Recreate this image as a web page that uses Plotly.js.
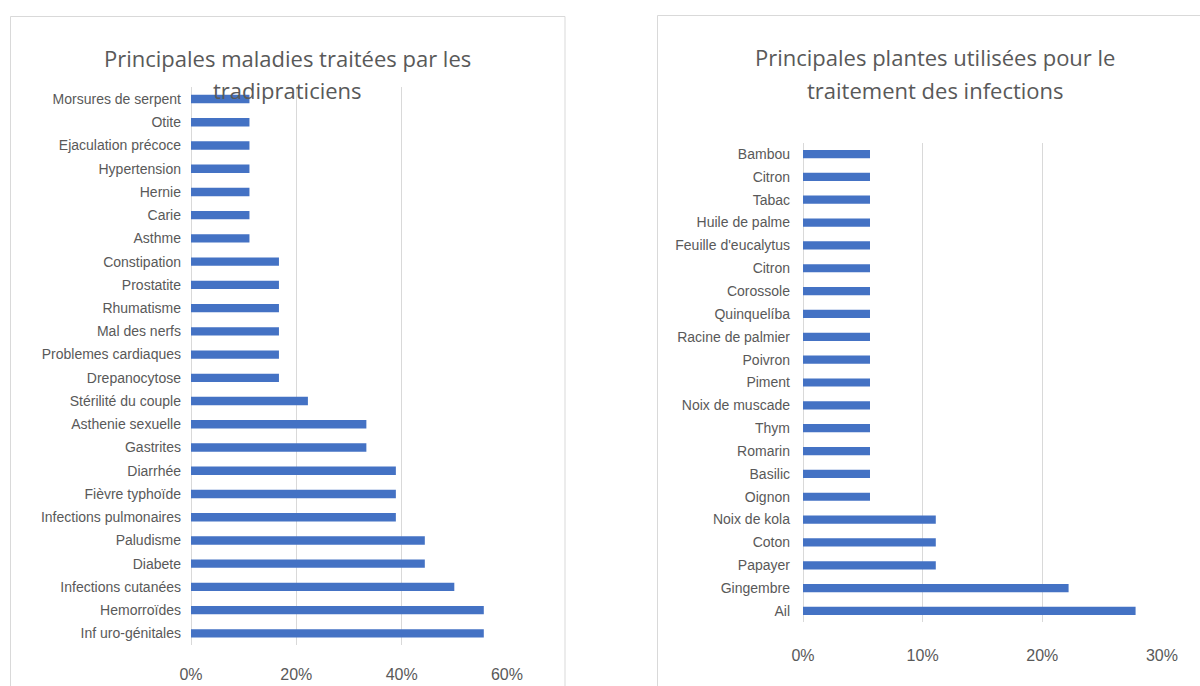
<!DOCTYPE html>
<html>
<head>
<meta charset="utf-8">
<script src="https://cdn.plot.ly/plotly-3.0.1.min.js"></script>
<style>html,body{margin:0;padding:0;background:#fff;}#chart{width:1200px;height:686px;}</style>
</head>
<body>
<div id="chart"></div>
<script>
// Left chart: diseases (top to bottom as displayed)
const maladies = [
  "Morsures de serpent", "Otite", "Ejaculation précoce", "Hypertension", "Hernie", "Carie", "Asthme",
  "Constipation", "Prostatite", "Rhumatisme", "Mal des nerfs", "Problemes cardiaques", "Drepanocytose",
  "Stérilité du couple", "Asthenie sexuelle", "Gastrites", "Diarrhée", "Fièvre typhoïde",
  "Infections pulmonaires", "Paludisme", "Diabete", "Infections cutanées", "Hemorroïdes", "Inf uro-génitales"
];
const maladiesPct = [
  0.111, 0.111, 0.111, 0.111, 0.111, 0.111, 0.111,
  0.167, 0.167, 0.167, 0.167, 0.167, 0.167,
  0.222, 0.333, 0.333, 0.389, 0.389,
  0.389, 0.444, 0.444, 0.5, 0.556, 0.556
];
const maladiesTitle1 = "Principales maladies traitées par les";
const maladiesTitle2 = "tradipraticiens";
const maladiesTicks = [0, 0.2, 0.4, 0.6];

// Right chart: plants (top to bottom as displayed)
const plantes = [
  "Bambou", "Citron", "Tabac", "Huile de palme", "Feuille d'eucalytus", "Citron", "Corossole",
  "Quinquelíba", "Racine de palmier", "Poivron", "Piment", "Noix de muscade", "Thym", "Romarin",
  "Basilic", "Oignon", "Noix de kola", "Coton", "Papayer", "Gingembre", "Ail"
];
const plantesPct = [
  0.056, 0.056, 0.056, 0.056, 0.056, 0.056, 0.056,
  0.056, 0.056, 0.056, 0.056, 0.056, 0.056, 0.056,
  0.056, 0.056, 0.111, 0.111, 0.111, 0.222, 0.278
];
const plantesTitle1 = "Principales plantes utilisées pour le";
const plantesTitle2 = "traitement des infections";
const plantesTicks = [0, 0.1, 0.2, 0.3];

const W = 1200, H = 686;
const px = v => v / W;
const py = v => 1 - v / H;

const barColor = "#4472c4";
const gridColor = "#d9d9d9";
const textColor = "#595959";
const labelFont = {family: "Liberation Sans, Arial, sans-serif", size: 14, color: textColor};
const tickFont = {family: "Liberation Sans, Arial, sans-serif", size: 16, color: textColor};
const titleFont = {family: "Open Sans, sans-serif", size: 22, color: textColor};

const idxM = maladies.map((_, i) => i);
const idxP = plantes.map((_, i) => i);

const traces = [
  {type: "bar", orientation: "h", x: maladiesPct, y: idxM, xaxis: "x", yaxis: "y",
   marker: {color: barColor}, hoverinfo: "x+text", text: maladies, textposition: "none"},
  {type: "bar", orientation: "h", x: plantesPct, y: idxP, xaxis: "x2", yaxis: "y2",
   marker: {color: barColor}, hoverinfo: "x+text", text: plantes, textposition: "none"}
];

const layout = {
  width: W, height: H,
  margin: {l: 0, r: 0, t: 0, b: 0},
  paper_bgcolor: "#fff", plot_bgcolor: "#fff",
  showlegend: false,
  bargap: 0.64,
  xaxis: {domain: [px(191), px(507.5)], range: [0, 0.601], tickvals: maladiesTicks, tickformat: ".0%",
          showgrid: true, gridcolor: gridColor, gridwidth: 1, zeroline: true, zerolinecolor: gridColor,
          zerolinewidth: 1, showline: false, ticks: "", tickfont: tickFont, ticklabelstandoff: 18, anchor: "y",
          fixedrange: true},
  yaxis: {domain: [py(645), py(87.4)], range: [maladies.length - 0.5, -0.5], tickvals: idxM, ticktext: maladies,
          showgrid: false, zeroline: false, showline: false, ticks: "", tickfont: labelFont,
          ticklabelstandoff: 9, anchor: "x", fixedrange: true},
  xaxis2: {domain: [px(803), px(1162.5)], range: [0, 0.3005], tickvals: plantesTicks, tickformat: ".0%",
          showgrid: true, gridcolor: gridColor, gridwidth: 1, zeroline: true, zerolinecolor: gridColor,
          zerolinewidth: 1, showline: false, ticks: "", tickfont: tickFont, ticklabelstandoff: 22, anchor: "y2",
          fixedrange: true},
  yaxis2: {domain: [py(622.4), py(142.6)], range: [plantes.length - 0.5, -0.5], tickvals: idxP, ticktext: plantes,
          showgrid: false, zeroline: false, showline: false, ticks: "", tickfont: labelFont,
          ticklabelstandoff: 12, anchor: "x2", fixedrange: true},
  shapes: [
    {type: "rect", xref: "paper", yref: "paper", x0: px(10.5), x1: px(565), y0: py(700), y1: py(16.5),
     line: {color: gridColor, width: 1}, fillcolor: "rgba(0,0,0,0)", layer: "below"},
    {type: "rect", xref: "paper", yref: "paper", x0: px(657.5), x1: px(1215), y0: py(700), y1: py(15.5),
     line: {color: gridColor, width: 1}, fillcolor: "rgba(0,0,0,0)", layer: "below"}
  ],
  annotations: [
    {text: maladiesTitle1, xref: "paper", yref: "paper", x: px(287), y: py(58), xanchor: "center", yanchor: "middle",
     showarrow: false, font: titleFont},
    {text: maladiesTitle2, xref: "paper", yref: "paper", x: px(287), y: py(90), xanchor: "center", yanchor: "middle",
     showarrow: false, font: titleFont},
    {text: plantesTitle1, xref: "paper", yref: "paper", x: px(935), y: py(57), xanchor: "center", yanchor: "middle",
     showarrow: false, font: titleFont},
    {text: plantesTitle2, xref: "paper", yref: "paper", x: px(935), y: py(90), xanchor: "center", yanchor: "middle",
     showarrow: false, font: titleFont}
  ]
};

Plotly.newPlot("chart", traces, layout, {displayModeBar: false, staticPlot: true});
</script>
</body>
</html>
